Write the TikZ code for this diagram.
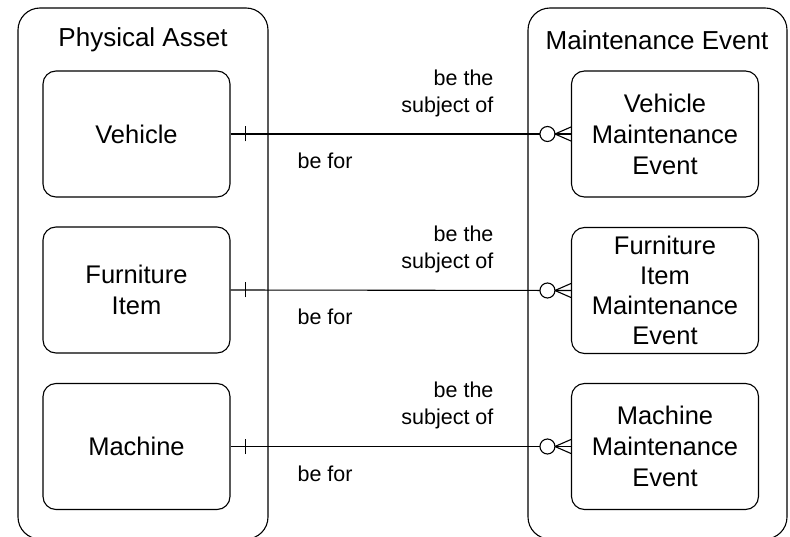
\documentclass[tikz,border=0pt]{standalone}
\usepackage{fontspec}
\setmainfont{Liberation Sans}
\begin{document}
\begin{tikzpicture}[x=1pt,y=-1pt,line width=1.1pt,
  outer/.style={draw,rounded corners=22pt},
  ent/.style={draw,rounded corners=13pt,minimum width=187pt,minimum height=126pt,align=center,inner sep=0pt,font=\fontsize{25.5}{31}\selectfont},
  ttl/.style={font=\fontsize{26}{30}\selectfont},
  lbl/.style={font=\fontsize{21.5}{27}\selectfont,inner sep=0pt}]
\useasboundingbox (0,0) rectangle (790,537);
% outer boxes
\draw[outer] (18,8) rectangle (268,539);
\draw[outer] (528,8) rectangle (787,539);
\node[ttl] (pa) at (143,40) {Physical Asset};
\node[ttl] (me) at (657,40) {Maintenance Event};
% entities
\node[ent] (veh) at (136.5,134) {Vehicle};
\node[ent] (fur) at (136.5,290) {Furniture\\Item};
\node[ent] (mac) at (136.5,446.5) {Machine};
\node[ent] (vme) at (665,134) {Vehicle\\Maintenance\\Event};
\node[ent,font=\fontsize{25.5}{30}\selectfont] (fme) at (665,290.5) {Furniture\\Item\\Maintenance\\Event};
\node[ent] (mme) at (665,446.5) {Machine\\Maintenance\\Event};
% relationships
\foreach \a/\b in {veh/vme,fur/fme,mac/mme}{
  \draw (\a.east) -- (\b.west);
  \draw ([xshift=15pt,yshift=-7.5pt]\a.east) -- ([xshift=15pt,yshift=7.5pt]\a.east);
  \draw[fill=white] ([xshift=-23.5pt]\b.west) circle (7.5pt);
  \draw ([xshift=-16pt]\b.west) -- ([yshift=-7pt]\b.west);
  \draw ([xshift=-16pt]\b.west) -- ([yshift=7pt]\b.west);
  \node[lbl,align=right,anchor=east] (st\a) at ([yshift=41pt]\b.west -| 494,0) {be the\\subject of};
  \node[lbl,anchor=west] (bf\a) at ([yshift=-27pt]\a.east -| 297,0) {be for};
}
\end{tikzpicture}
\end{document}
